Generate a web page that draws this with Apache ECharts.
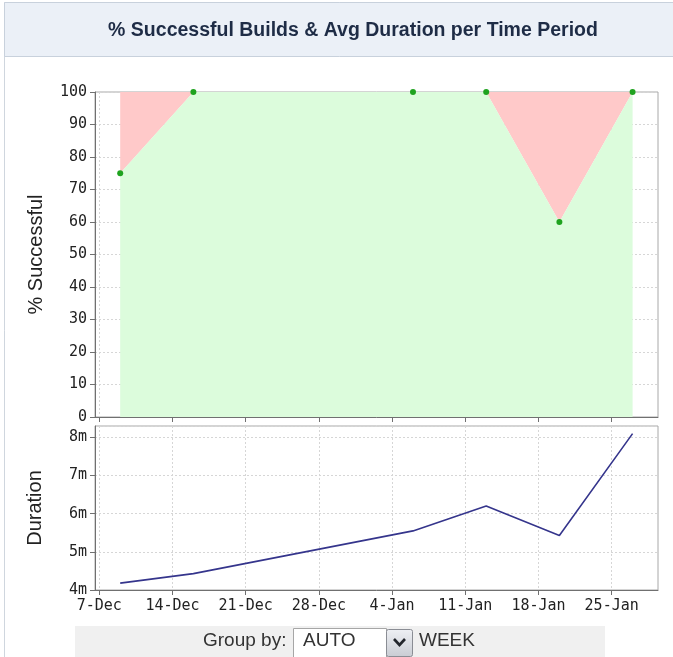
<!DOCTYPE html>
<html>
<head>
<meta charset="utf-8">
<title>% Successful Builds &amp; Avg Duration per Time Period</title>
<script src="https://cdn.jsdelivr.net/npm/echarts@6/dist/echarts.min.js"></script>
<style>
  html, body { margin: 0; padding: 0; background: #ffffff; }
  #chart { width: 673px; height: 657px; }
</style>
</head>
<body>
<div id="chart"></div>
<script>
// Week boundaries shown on the time axis
const weekTickDates = ['2008-12-07', '2008-12-14', '2008-12-21', '2008-12-28',
                       '2009-01-04', '2009-01-11', '2009-01-18', '2009-01-25'];
const weekTickLabels = ['7-Dec', '14-Dec', '21-Dec', '28-Dec', '4-Jan', '11-Jan', '18-Jan', '25-Jan'];

// One entry per build period (weeks without builds are absent)
const periodDates = ['2008-12-09', '2008-12-16', '2009-01-06', '2009-01-13', '2009-01-20', '2009-01-27'];
const successPct = [75, 100, 100, 100, 60, 100];
const avgDurationMin = [4.18, 4.43, 5.55, 6.2, 5.43, 8.1];

// Axis window, in dates
const axisStartDate = '2008-12-06T14:10:00Z';
const axisEndDate = '2009-01-29T10:20:00Z';

const DAY = 86400000;
const origin = Date.parse(weekTickDates[0] + 'T00:00:00Z');
const toDay = s => (Date.parse(s.length > 10 ? s : s + 'T00:00:00Z') - origin) / DAY;

const tickDays = weekTickDates.map(toDay);
const periodDays = periodDates.map(toDay);
const xMin = toDay(axisStartDate);
const xMax = toDay(axisEndDate);

const successData = periodDays.map((d, i) => [d, successPct[i]]);
const durationData = periodDays.map((d, i) => [d, avgDurationMin[i]]);

const tickFont = { fontFamily: 'DejaVu Sans Mono', fontSize: 15, color: '#222' };
const nameFont = { fontFamily: 'Liberation Sans', fontSize: 20, color: '#222' };
const gridLine = { show: true, lineStyle: { color: '#d6d6d6', type: [2, 2], width: 1 } };
const axisLine = { show: true, onZero: false, lineStyle: { color: '#707070', width: 1 } };
const axisTick = { show: true, length: 5, inside: false, lineStyle: { color: '#707070' } };
const controlFont = { fontFamily: 'Liberation Sans', fontSize: 19, fill: '#333333', verticalAlign: 'middle' };

function xAxisFor(gridIndex, withLabels) {
  return {
    type: 'value', gridIndex, min: xMin, max: xMax,
    axisLine,
    axisTick: Object.assign({ customValues: tickDays }, axisTick),
    axisLabel: {
      show: withLabels, customValues: tickDays, margin: 9,
      ...tickFont,
      formatter: v => {
        const i = tickDays.findIndex(t => Math.abs(t - v) < 1e-6);
        return i >= 0 ? weekTickLabels[i] : '';
      }
    },
    splitLine: gridLine
  };
}

const chart = echarts.init(document.getElementById('chart'), null, { renderer: 'canvas' });

chart.setOption({
  backgroundColor: '#ffffff',
  animation: false,
  title: {
    text: '% Successful Builds & Avg Duration per Time Period',
    left: 348, top: 16, textAlign: 'center',
    textStyle: { fontFamily: 'Liberation Sans', fontSize: 19.5, fontWeight: 'bold', color: '#1e2c46' }
  },
  graphic: [
    { type: 'rect', z: -10, shape: { x: 4.5, y: 2.5, width: 680, height: 700 },
      style: { fill: '#ffffff', stroke: '#cfd6de', lineWidth: 1 } },
    { type: 'rect', z: -9, shape: { x: 4.5, y: 2.5, width: 680, height: 54 },
      style: { fill: '#ebf0f7', stroke: '#c8d1dc', lineWidth: 1 } },
    // "Group by" control strip
    { type: 'rect', shape: { x: 75, y: 626, width: 530, height: 40 }, style: { fill: '#f0f0f0' } },
    { type: 'text', x: 203, y: 641, style: Object.assign({ text: 'Group by:' }, controlFont) },
    { type: 'rect', shape: { x: 293.5, y: 628.5, width: 93, height: 40 },
      style: { fill: '#ffffff', stroke: '#a6a6a6', lineWidth: 1 } },
    { type: 'text', x: 303, y: 641, style: Object.assign({ text: 'AUTO' }, controlFont) },
    { type: 'rect', shape: { x: 386.5, y: 629.5, width: 26, height: 27, r: 2 },
      style: { fill: new echarts.graphic.LinearGradient(0, 0, 0, 1,
        [{ offset: 0, color: '#eef0f4' }, { offset: 1, color: '#c9ccd3' }]), stroke: '#8a8d94', lineWidth: 1 } },
    { type: 'polyline', shape: { points: [[394, 639], [399.5, 645], [405, 639]] },
      style: { stroke: '#23262c', lineWidth: 2.6, fill: null } },
    { type: 'text', x: 419, y: 641, style: Object.assign({ text: 'WEEK' }, controlFont) }
  ],
  grid: [
    { left: 95, top: 92, width: 563, height: 325, show: true, borderColor: '#a8a8a8', borderWidth: 1,
      backgroundColor: '#ffffff' },
    { left: 95, top: 426, width: 563, height: 164, show: true, borderColor: '#a8a8a8', borderWidth: 1,
      backgroundColor: '#ffffff' }
  ],
  xAxis: [xAxisFor(0, false), xAxisFor(1, true)],
  yAxis: [
    {
      type: 'value', gridIndex: 0, min: 0, max: 100, interval: 10,
      name: '% Successful', nameLocation: 'middle', nameGap: 49, nameRotate: 90,
      nameTextStyle: nameFont,
      axisLine, axisTick, splitLine: gridLine,
      axisLabel: Object.assign({ margin: 8 }, tickFont)
    },
    {
      type: 'value', gridIndex: 1, min: 4, max: 8.3, interval: 1,
      name: 'Duration', nameLocation: 'middle', nameGap: 50, nameRotate: 90,
      nameTextStyle: nameFont,
      axisLine, axisTick, splitLine: gridLine,
      axisLabel: Object.assign({
        margin: 8, showMaxLabel: false,
        formatter: v => (Math.abs(v - Math.round(v)) < 1e-6 ? Math.round(v) + 'm' : '')
      }, tickFont)
    }
  ],
  series: [
    {
      // failed share: filled from the success line up to 100 %
      name: 'Failed', type: 'line', xAxisIndex: 0, yAxisIndex: 0, z: 2,
      data: successData, showSymbol: false, symbol: 'none',
      lineStyle: { width: 0, opacity: 0 },
      areaStyle: { color: '#ffc9c9', opacity: 1, origin: 'end' }
    },
    {
      name: 'Successful', type: 'line', xAxisIndex: 0, yAxisIndex: 0, z: 3,
      data: successData, symbol: 'circle', symbolSize: 6, showSymbol: true,
      itemStyle: { color: '#1fa31f' },
      lineStyle: { width: 0, opacity: 0 },
      areaStyle: { color: '#dcfcdc', opacity: 1, origin: 'start' }
    },
    {
      name: 'Avg Duration', type: 'line', xAxisIndex: 1, yAxisIndex: 1,
      data: durationData, showSymbol: false, symbol: 'none',
      lineStyle: { color: '#35358c', width: 1.6 }
    }
  ]
});
</script>
</body>
</html>
